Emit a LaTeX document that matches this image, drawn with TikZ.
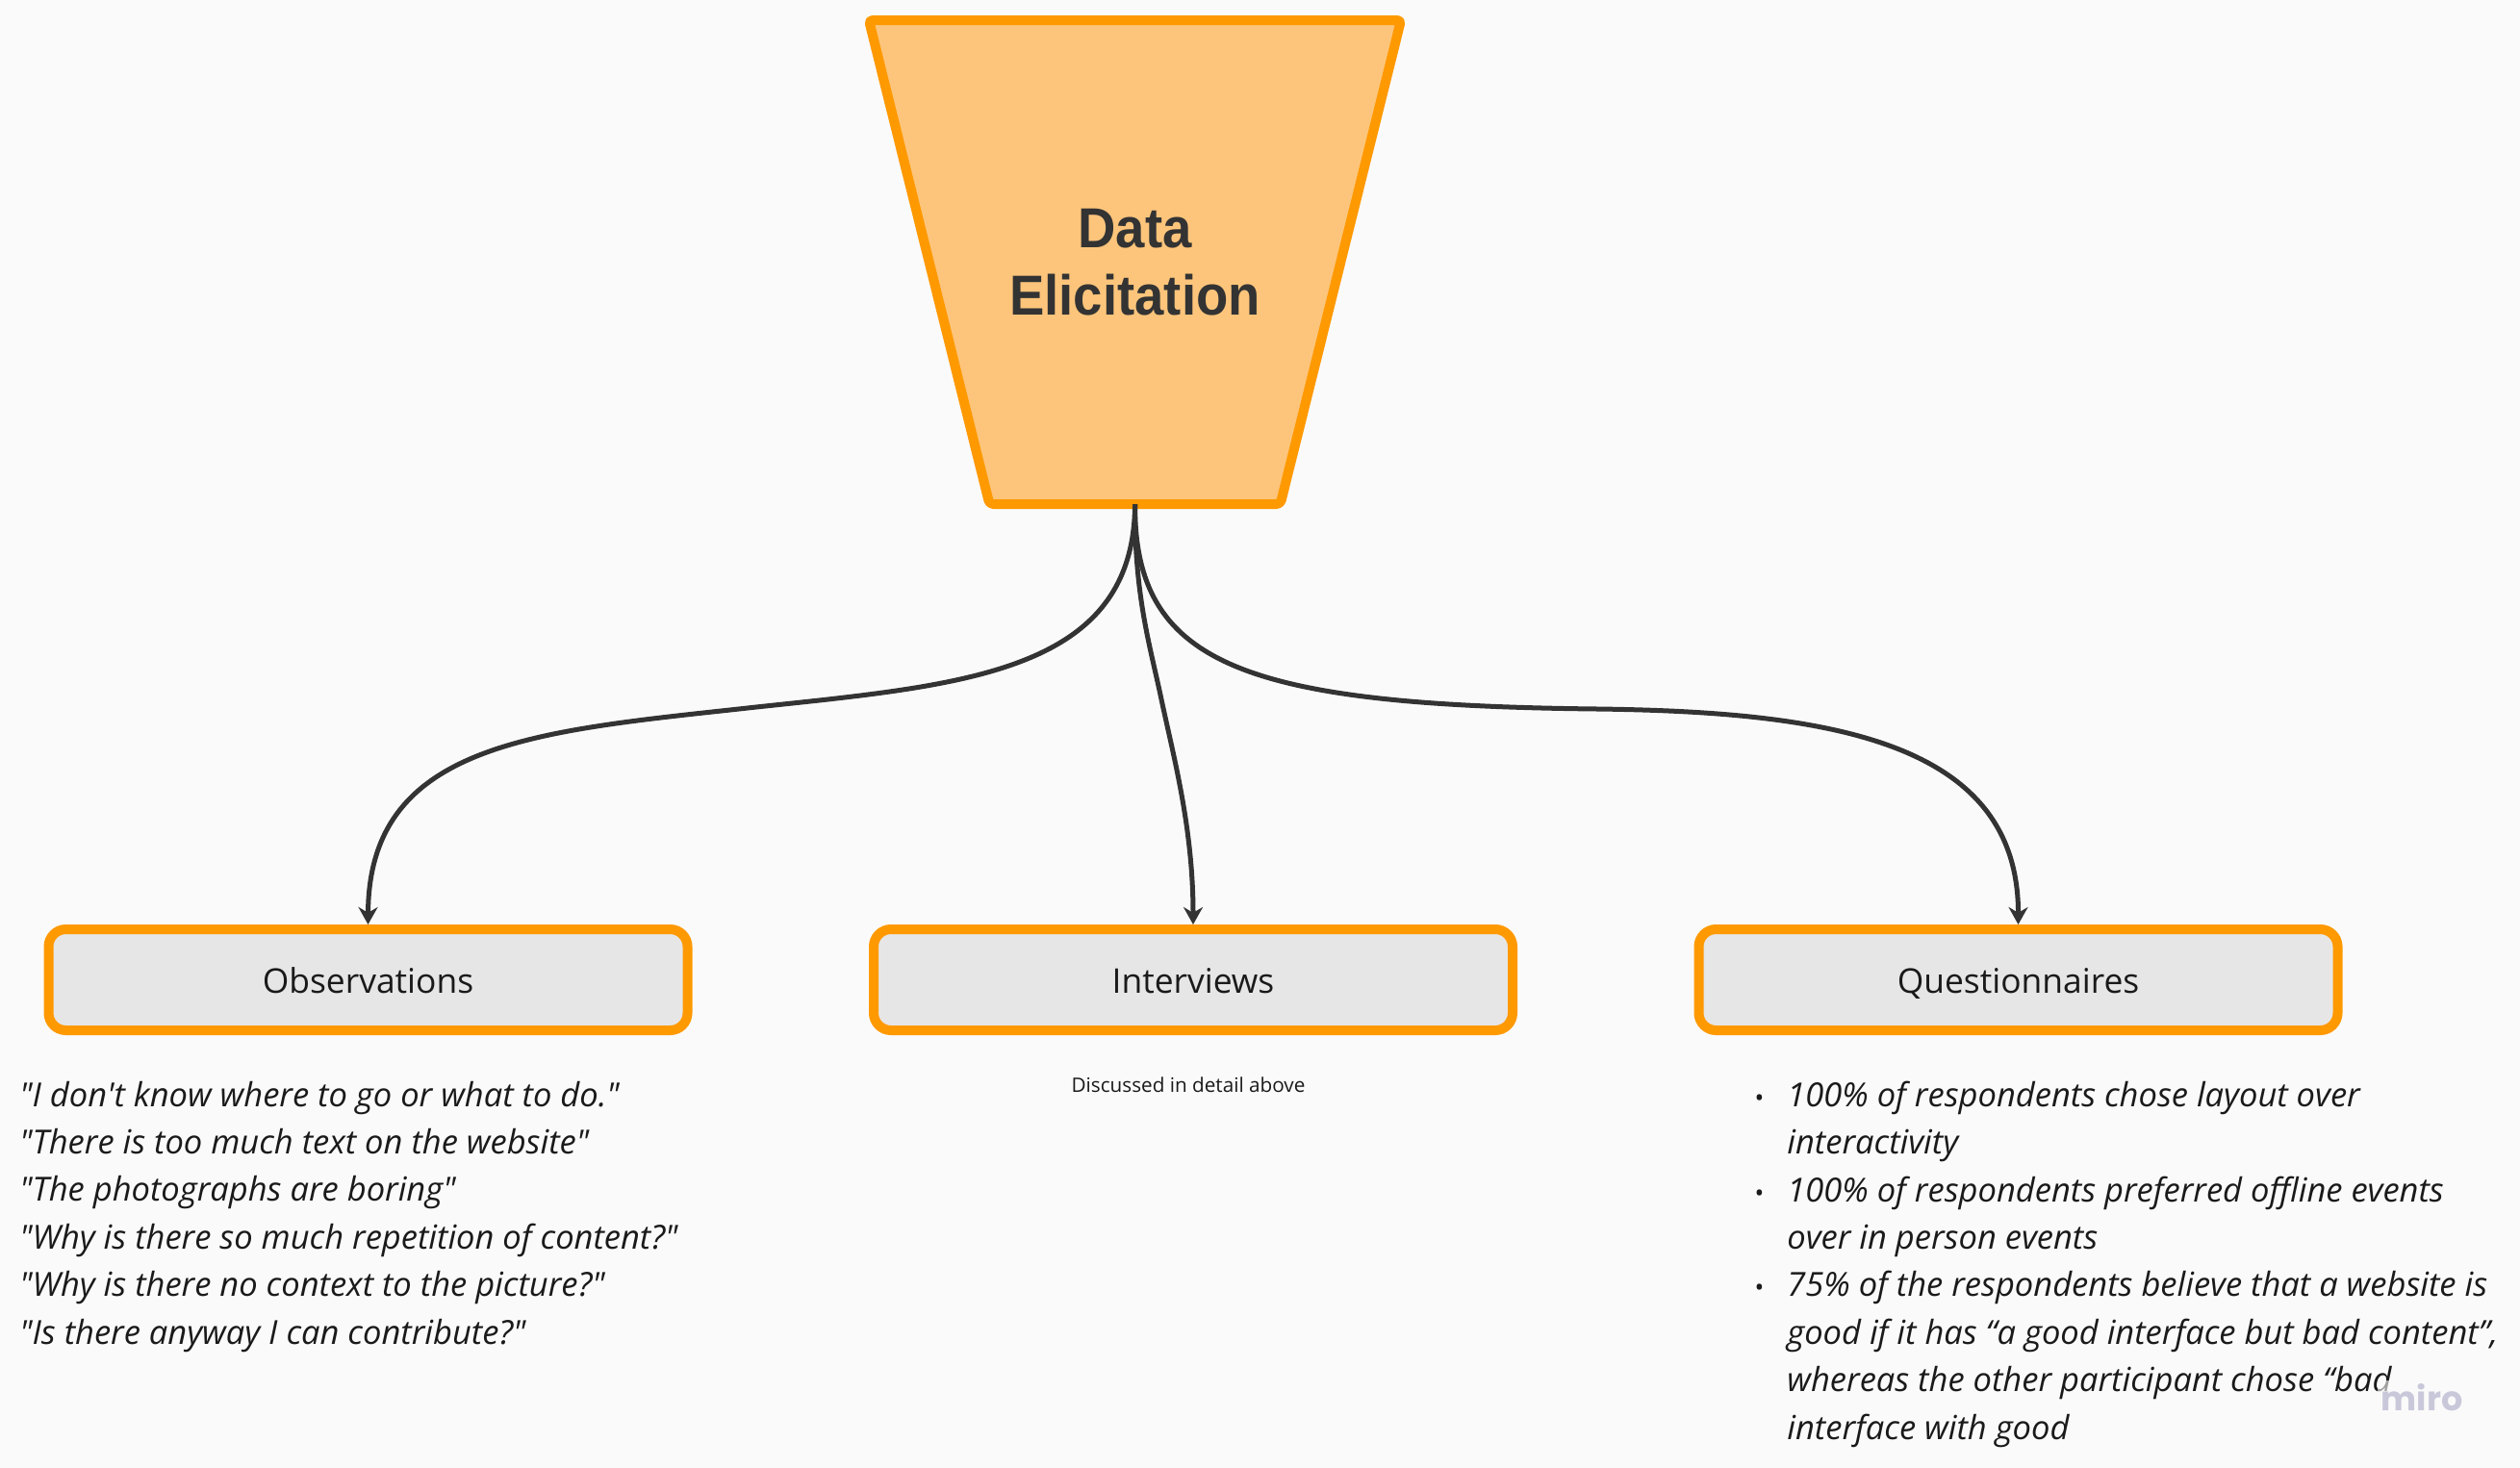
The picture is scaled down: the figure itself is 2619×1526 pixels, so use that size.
\documentclass[tikz,border=0pt]{standalone}
\usepackage{fontspec}
\usepackage{tikz}
\usetikzlibrary{shapes.geometric,arrows.meta}
\setmainfont{Open Sans}[Ligatures=TeXOff]
\newfontfamily\titlefont{Liberation Sans}[FakeStretch=0.93]
\newfontfamily\logofont{Poppins}
\definecolor{pagebg}{HTML}{FAFAFA}
\definecolor{rim}{HTML}{FF9900}
\definecolor{funnelfill}{HTML}{FDC57B}
\definecolor{boxfill}{HTML}{E6E6E6}
\definecolor{ink}{HTML}{1A1A1A}
\definecolor{linkcol}{HTML}{333333}
\definecolor{logocol}{HTML}{C8C8DA}
\newcommand{\listdot}{\llap{\textup{\fontsize{13}{13}\selectfont\textbullet}\hspace{12pt}}}

\begin{document}
\begin{tikzpicture}[x=0.5pt, y=-0.5pt, node distance={428.75pt}, text=ink,
                    funnel/.style = {draw=rim, fill=funnelfill, line width=5pt, line join=round, rounded corners=2pt, trapezium, shape border rotate=180, trapezium stretches body=true, trapezium left angle=41.5, trapezium right angle=41.5, minimum width=276.5pt, minimum height=251.5pt, inner sep=0pt, outer sep=0pt, align=center, text=linkcol, font=\titlefont\fontsize{29.3}{35}\selectfont\bfseries},
                    source/.style = {draw=rim, fill=boxfill, line width=5pt, rounded corners=9pt, minimum width=332pt, minimum height=52.5pt, inner sep=0pt, outer sep=2.5pt, text height=18.5pt, text depth=4.5pt, font=\fontsize{17.7}{20}\selectfont},
                    quotes/.style = {anchor=north west, inner sep=0pt, align=left, font=\fontsize{17.25}{24.7}\selectfont\itshape},
                    link/.style = {draw=linkcol, line width=2.5pt, -{Stealth[length=9pt, width=10pt]}}]
                    \fill[pagebg] (0,0) rectangle (2619,1526);
                    \useasboundingbox (0,0) rectangle (2619,1526);
                    \node[funnel] (elicit) at (1179.5,272.5) {Data\\Elicitation};
                    \node[source] (interviews) at (1240,1018.5) {Interviews};
                    \node[source] (observations) [left of=interviews] {Observations};
                    \node[source] (questionnaires) [right of=interviews] {Questionnaires};
                    \coordinate (leftbend) at (786,735);
                    \coordinate (midbend) at (1207,727);
                    \coordinate (rightbend) at (1660,737);
                    \draw[link] (elicit.south) .. controls (1179,700) and (1000,712) .. (leftbend) .. controls (560,760) and (383,770) .. (observations.north);
                    \draw[link] (elicit.south) .. controls (1179,620) and (1195,670) .. (midbend) .. controls (1219,784) and (1240,860) .. (interviews.north);
                    \draw[link] (elicit.south) .. controls (1179,690) and (1290,733) .. (rightbend) .. controls (1900,740) and (2098,770) .. (questionnaires.north);
                    \node[quotes] (obslist) at (20,1123.5) {"I don't know where to go or what to do."\\"There is too much text on the website"\\"The photographs are boring"\\"Why is there so much repetition of content?"\\"Why is there no context to the picture?"\\"Is there anyway I can contribute?"};
                    \node[font=\fontsize{10.35}{12}\selectfont, inner sep=0pt] (intnote) at (1235,1128) {Discussed in detail above};
                    \node[quotes] (qlist) at (1857,1123.5) {\listdot 100\% of respondents chose layout over\\interactivity\\\listdot 100\% of respondents preferred offline events\\over in person events\\\listdot 75\% of the respondents believe that a website is\\good if it has “a good interface but bad content”,\\whereas the other participant chose “bad\\interface with good};
                    \node[text=logocol, fill=pagebg, fill opacity=0.6, text opacity=1, inner sep=2pt, font=\logofont\bfseries\fontsize{17.5}{20}\selectfont] (miro) at (2517,1453) {miro};
                \end{tikzpicture}
\end{document}
